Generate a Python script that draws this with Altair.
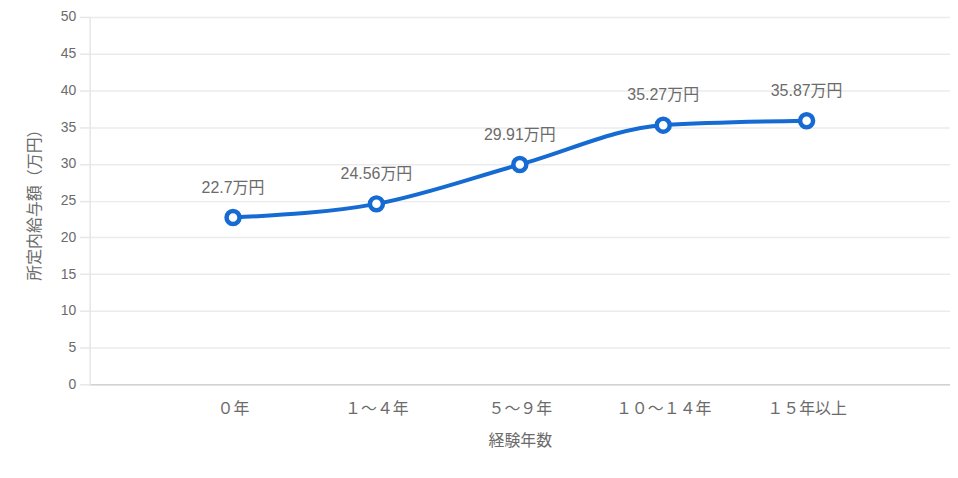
import altair as alt
import pandas as pd

categories = ["０年", "１～４年", "５～９年", "１０～１４年", "１５年以上"]
values = [22.7, 24.56, 29.91, 35.27, 35.87]
labels = [f"{v}万円" for v in values]
y_ticks = list(range(0, 55, 5))

df = pd.DataFrame({"cat": categories, "val": values, "label": labels})

FONT = "Noto Sans CJK JP"
LATIN = "Liberation Sans, Noto Sans CJK JP"
GRAY = "#6b6b6b"
BLUE = "#156bd2"

x = alt.X(
    "cat:N",
    sort=categories,
    scale=alt.Scale(type="point", padding=1),
    axis=alt.Axis(
        title="経験年数", labelAngle=0, ticks=False, grid=False,
        domainColor="#d2d2d2", domainWidth=1.5,
        labelPadding=16, titlePadding=16,
        labelFontSize=16, titleFontSize=16,
        labelColor=GRAY, titleColor=GRAY, titleFontWeight="normal",
        labelFont=FONT, titleFont=FONT,
    ),
)
y = alt.Y(
    "val:Q",
    scale=alt.Scale(domain=[0, 50], nice=False),
    axis=alt.Axis(
        title="所定内給与額（万円）", values=y_ticks,
        tickSize=10, tickColor="#e6e6e6", tickWidth=1.5,
        domainColor="#e6e6e6", domainWidth=1.5,
        gridColor="#ebebeb", gridWidth=1.5,
        labelPadding=4, titlePadding=18,
        labelFontSize=14, titleFontSize=16,
        labelColor=GRAY, titleColor=GRAY, titleFontWeight="normal",
        labelFont="Liberation Sans", titleFont=FONT,
    ),
)

base = alt.Chart(df).encode(x=x, y=y)

line = base.mark_line(interpolate="monotone", color=BLUE, strokeWidth=4)
points = base.mark_point(shape="circle", size=170, filled=True, fill="white",
                         stroke=BLUE, strokeWidth=4.5, opacity=1)
text = base.mark_text(dy=-30, fontSize=16, color=GRAY, font=LATIN).encode(text="label:N")

chart = (
    alt.layer(line, points, text)
    .properties(
        width=864, height=369,
        autosize=alt.AutoSizeParams(type="none"),
        padding={"left": 82, "top": 8, "right": 0, "bottom": 70},
        background="white",
    )
    .configure_view(stroke=None)
)

chart.save("out.html", embed_options={"renderer": "svg", "actions": False})
